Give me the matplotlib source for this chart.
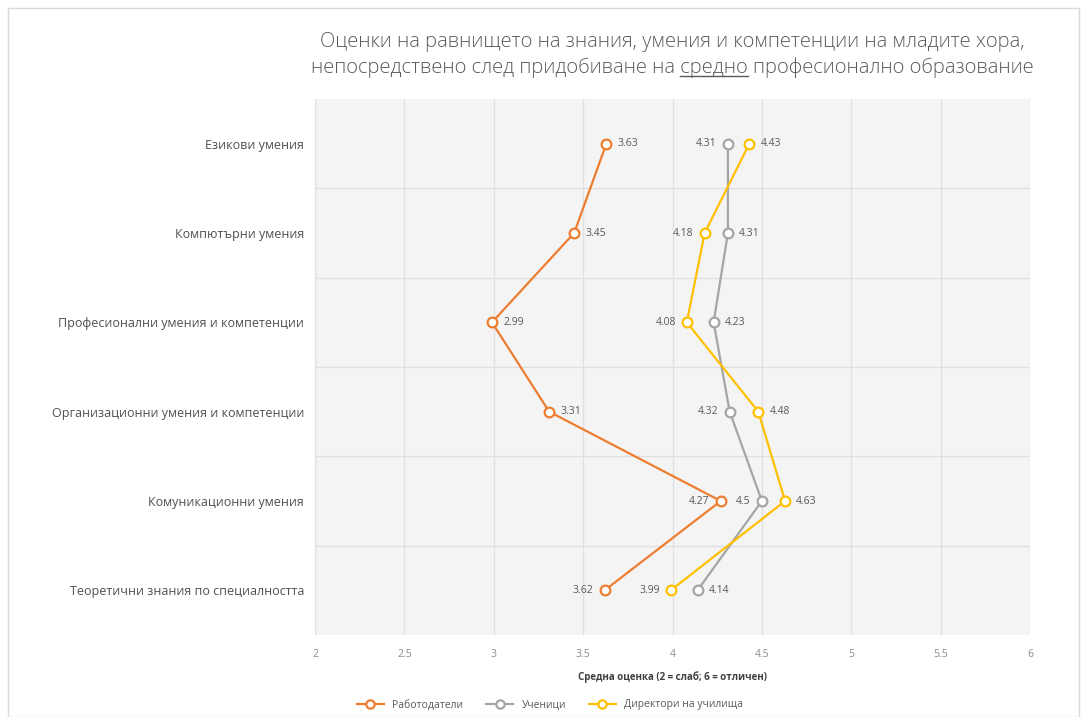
import matplotlib
matplotlib.use("Agg")
import matplotlib.pyplot as plt
from matplotlib.lines import Line2D

plt.rcParams['font.family'] = ['Open Sans', 'DejaVu Sans']

categories = ["Езикови умения", "Компютърни умения", "Професионални умения и компетенции",
              "Организационни умения и компетенции", "Комуникационни умения",
              "Теоретични знания по специалността"]
employers = [3.63, 3.45, 2.99, 3.31, 4.27, 3.62]
students = [4.31, 4.31, 4.23, 4.32, 4.50, 4.14]
directors = [4.43, 4.18, 4.08, 4.48, 4.63, 3.99]
student_labels = ["4.31", "4.31", "4.23", "4.32", "4.5", "4.14"]
series_names = ["Работодатели", "Ученици", "Директори на училища"]
xticks = [2, 2.5, 3, 3.5, 4, 4.5, 5, 5.5, 6]
xtick_labels = ["2", "2.5", "3", "3.5", "4", "4.5", "5", "5.5", "6"]

# label sides: 1 = right, -1 = left
emp_side = [1, 1, 1, 1, -1, -1]
stu_side = [-1, 1, 1, -1, -1, 1]
dir_side = [1, -1, -1, 1, 1, -1]

colors = ["#ED7D31", "#A5A5A5", "#FFC000"]

fig = plt.figure(figsize=(10.87, 7.17), dpi=100)
fig.patch.set_facecolor("white")
ax = fig.add_axes([315/1087, 1-635/717, 715/1087, 536/717])
ax.set_facecolor("#f4f4f4")

n = len(categories)
ypos = list(range(n))
ax.set_ylim(n - 0.5, -0.5)
ax.set_xlim(2, 6)
ax.set_xticks(xticks)
ax.set_xticklabels(xtick_labels, fontsize=7.5, color="#8c8c8c")
ax.set_yticks(ypos)
ax.set_yticklabels(categories, fontsize=9, color="#505050")
for i in range(n - 1):
    ax.axhline(i + 0.5, color="#e0e0e0", lw=1, zorder=0)
for xv in xticks:
    ax.axvline(xv, color="#e0e0e0", lw=1, zorder=0)
for s in ax.spines.values():
    s.set_visible(False)
ax.tick_params(length=0, pad=8)
ax.tick_params(axis='x', pad=10)
ax.set_xlabel("Средна оценка (2 = слаб; 6 = отличен)", fontsize=7, color="#404040",
              fontweight="bold", labelpad=8)

data = [employers, students, directors]
sides = [emp_side, stu_side, dir_side]
for k, (vals, col, sd) in enumerate(zip(data, colors, sides)):
    ax.plot(vals, ypos, color=col, lw=1.6, marker="o", ms=7, mfc="white",
            mec=col, mew=1.6, zorder=3 + k)
    for i, v in enumerate(vals):
        lab = student_labels[i] if k == 1 else f"{v:.2f}"
        ax.annotate(lab, (v, i), xytext=(8 * sd[i], 0), textcoords="offset points",
                    ha="left" if sd[i] > 0 else "right", va="center",
                    fontsize=7.5, color="#595959", zorder=10)

# title
line1 = "Оценки на равнището на знания, умения и компетенции на младите хора,"
pre = "непосредствено след придобиване на "
mid = "средно"
post = " професионално образование"
tcx = ax.get_position().x0 + ax.get_position().width / 2
tkw = dict(fontsize=14.5, color="#595959", fontweight="light")
t1 = fig.text(tcx, 1 - 42/717, line1, ha="center", va="center", **tkw)
t2 = fig.text(tcx, 1 - 68/717, pre + mid + post, ha="center", va="center", **tkw)
fig.canvas.draw()
r = fig.canvas.get_renderer()
bb = t2.get_window_extent(r)
tmp = fig.text(0, 0, pre, **tkw)
w_pre = tmp.get_window_extent(r).width
tmp.set_text(pre + mid)
w_mid = tmp.get_window_extent(r).width
tmp.remove()
x_start = (bb.x0 + w_pre) / fig.bbox.width
x_end = (bb.x0 + w_mid) / fig.bbox.width
yline = (bb.y0 + 2) / fig.bbox.height
fig.add_artist(Line2D([x_start, x_end], [yline, yline], color="#595959", lw=1,
                      transform=fig.transFigure))

handles = [Line2D([], [], color=c, lw=1.6, marker="o", ms=6, mfc="white", mec=c, mew=1.6)
           for c in colors]
fig.legend(handles, series_names, loc="center", bbox_to_anchor=(550/1087, 1 - 705/717),
           ncol=3, frameon=False, fontsize=7.5, labelcolor="#595959", handlelength=2.6,
           columnspacing=2.2)

fig.add_artist(plt.Rectangle((8/1087, 0), 1 - 16/1087, 1 - 8/717, fill=False,
                             edgecolor="#d9d9d9", lw=1, transform=fig.transFigure))

fig.savefig("out.png", dpi=100)
